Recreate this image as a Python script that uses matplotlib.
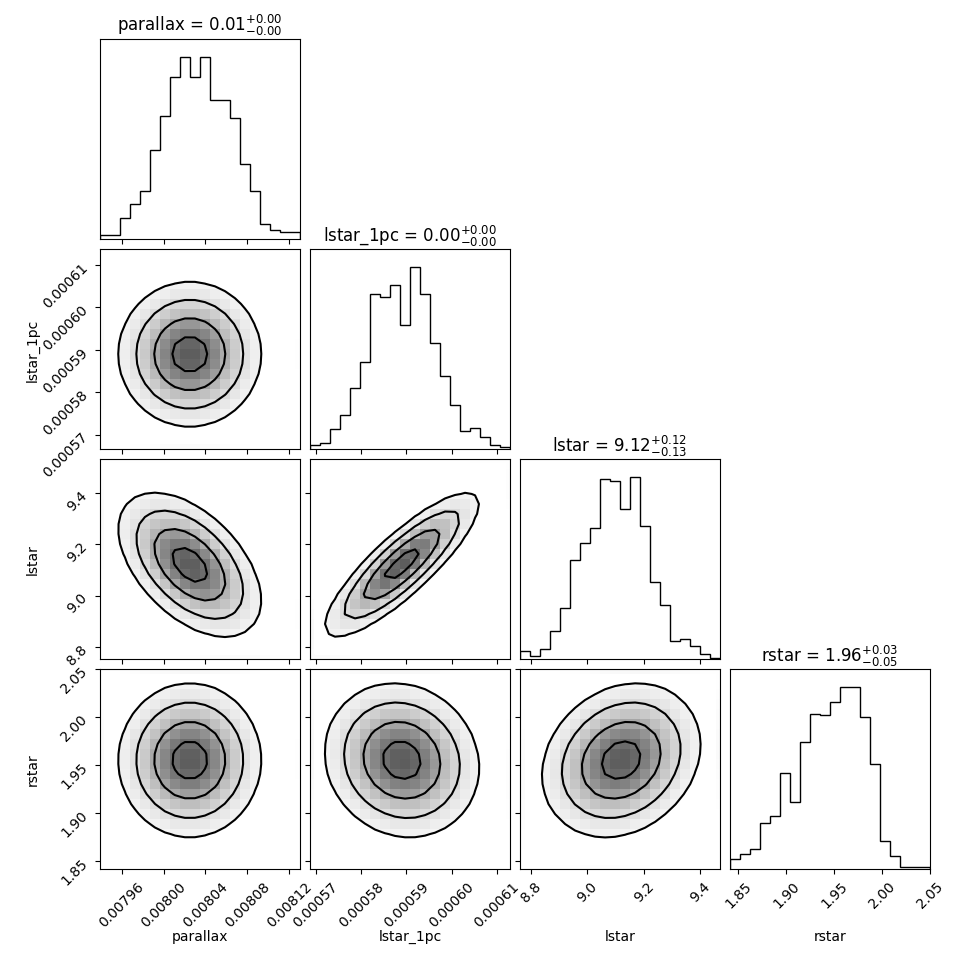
import numpy as np
import matplotlib
matplotlib.use("Agg")
import matplotlib.pyplot as plt
from matplotlib.ticker import FixedLocator

names = ["parallax", "lstar_1pc", "lstar", "rstar"]
titles = [r"parallax = $0.01^{+0.00}_{-0.00}$",
          r"lstar_1pc = $0.00^{+0.00}_{-0.00}$",
          r"lstar = $9.12^{+0.12}_{-0.13}$",
          r"rstar = $1.96^{+0.03}_{-0.05}$"]

# axis ranges
xranges = [(0.007939, 0.0081305), (0.0005687, 0.0006129), (8.761, 9.471), (1.8416, 2.05)]
yranges = [None, (0.0005667, 0.0006138), (8.753, 9.532), (1.8416, 2.05)]
ticks = [[0.00796, 0.00800, 0.00804, 0.00808, 0.00812],
         [0.00057, 0.00058, 0.00059, 0.00060, 0.00061],
         [8.8, 9.0, 9.2, 9.4],
         [1.85, 1.90, 1.95, 2.00, 2.05]]
tick_fmt = ["{:.5f}", "{:.5f}", "{:.1f}", "{:.2f}"]

# 1D histogram counts (20 bins over the axis range)
hist_parallax = [4, 4, 21, 34, 47, 87, 121, 159, 179, 159, 179, 137, 137, 119, 74, 47, 15, 9, 7, 7]
hist_lstar1pc = [4, 6, 20, 34, 60, 86, 153, 150, 162, 123, 180, 153, 105, 72, 43, 18, 21, 12, 4, 2]
hist_lstar = [8, 3, 10, 28, 50, 98, 115, 130, 178, 176, 148, 180, 132, 76, 53, 18, 20, 13, 5, 1]
hist_rstar = [10, 15, 20, 46, 53, 95, 66, 126, 153, 152, 165, 180, 180, 151, 104, 28, 13, 2, 2, 2]
hists = [hist_parallax, hist_lstar1pc, hist_lstar, hist_rstar]

# approximate posterior summary
means = [8.025e-3, 5.89e-4, 9.12, 1.955]
sigmas = [3.4e-5, 8.5e-6, 0.14, 0.04]
corr = np.array([[1.0, 0.0, -0.5, 0.0],
                 [0.0, 1.0, 0.85, -0.1],
                 [-0.5, 0.85, 1.0, 0.2],
                 [0.0, -0.1, 0.2, 1.0]])

fig, axes = plt.subplots(4, 4, figsize=(9.7, 9.7), dpi=100)
fig.subplots_adjust(left=0.103, right=0.959, top=0.959, bottom=0.103, wspace=0.05, hspace=0.05)

levels_sig = [0.5, 1.0, 1.5, 2.0]

for i in range(4):
    for j in range(4):
        ax = axes[i, j]
        if j > i:
            ax.axis("off")
            continue
        xr = xranges[j]
        if i == j:
            edges = np.linspace(xr[0], xr[1], len(hists[i]) + 1)
            ax.stairs(hists[i], edges, color="k", linewidth=1)
            ax.set_xlim(xr)
            ax.set_ylim(0, max(hists[i]) * 1.1)
            ax.set_yticks([])
            ax.set_title(titles[i], fontsize=12)
        else:
            yr = yranges[i]
            nx = 20
            xe = np.linspace(xr[0], xr[1], nx + 1)
            ye = np.linspace(yr[0], yr[1], nx + 1)
            xc = 0.5 * (xe[1:] + xe[:-1])
            yc = 0.5 * (ye[1:] + ye[:-1])
            X, Y = np.meshgrid(xc, yc)
            u = (X - means[j]) / sigmas[j]
            v = (Y - means[i]) / sigmas[i]
            r = corr[i, j]
            q = (u**2 - 2 * r * u * v + v**2) / (1 - r**2)
            Z = np.exp(-0.5 * q)
            ax.pcolormesh(xe, ye, Z, cmap="Greys", vmin=0, vmax=1.4)
            lev = np.exp(-0.5 * np.array(levels_sig[::-1]) ** 2)
            ax.contourf(X, Y, Z, levels=[0, lev[0]], colors="white")
            ax.contour(X, Y, Z, levels=lev, colors="k", linewidths=1.5)
            ax.set_xlim(xr)
            ax.set_ylim(yr)
            ax.yaxis.set_major_locator(FixedLocator(ticks[i]))
            if j == 0:
                ax.set_yticklabels([tick_fmt[i].format(t) for t in ticks[i]], rotation=45)
                ax.set_ylabel(names[i])
                ax.yaxis.set_label_coords(-0.3, 0.5)
            else:
                ax.set_yticklabels([])
        ax.xaxis.set_major_locator(FixedLocator(ticks[j]))
        if i == 3:
            ax.set_xticklabels([tick_fmt[j].format(t) for t in ticks[j]], rotation=45)
            ax.set_xlabel(names[j])
            ax.xaxis.set_label_coords(0.5, -0.3)
        else:
            ax.set_xticklabels([])

fig.savefig("out.png", dpi=100)
